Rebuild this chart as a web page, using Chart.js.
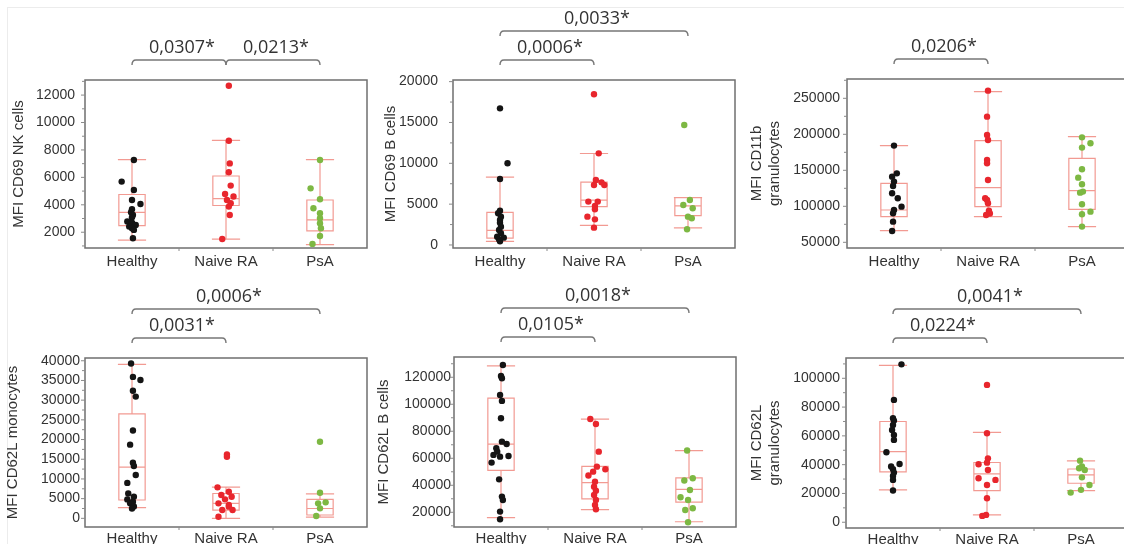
<!DOCTYPE html>
<html>
<head>
<meta charset="utf-8">
<script src="https://cdn.jsdelivr.net/npm/chart.js@4.4.1/dist/chart.umd.min.js"></script>
<style>
html, body { margin: 0; padding: 0; background: #fff; overflow: hidden; }
#wrap { position: relative; width: 1124px; height: 544px; overflow: hidden; }
#edge { position: absolute; left: 7px; top: 7px; width: 1130px; height: 550px; border: 1px solid #ececec; }
canvas { position: absolute; }
</style>
</head>
<body>
<div id="wrap">
  <div id="edge"></div>
  <canvas id="c1"></canvas>
  <canvas id="c2"></canvas>
  <canvas id="c3"></canvas>
  <canvas id="c4"></canvas>
  <canvas id="c5"></canvas>
  <canvas id="c6"></canvas>
</div>
<script>
var groups = ['Healthy', 'Naive RA', 'PsA'];
var groupColors = ['#141414', '#e8262d', '#7db843'];
var boxColor = '#f29a92';

// MFI CD69 NK cells
var nkValues = [
  [7270, 5690, 5080, 4350, 4060, 3680, 3460, 3260, 3090, 2780, 2700, 2530, 2410, 2290, 2170, 1560],
  [12680, 8670, 7020, 6370, 5400, 4790, 4600, 4350, 4110, 3870, 3260, 1510],
  [7270, 5200, 4400, 3750, 3380, 3020, 2660, 2290, 1730, 1150]
];
var nkJitter = [
  [0.02, -0.11, 0.02, 0, 0.09, 0, -0.01, 0.01, 0, -0.05, 0, 0.04, -0.03, 0, 0.02, 0.01],
  [0.03, 0.03, 0.04, 0.03, 0.05, -0.01, 0.08, 0.01, 0.05, 0.03, 0.04, -0.04],
  [0, -0.1, 0, -0.07, 0, 0, 0, 0.01, 0, -0.08]
];
// [low whisker, q1, median, q3, high whisker]
var nkBoxes = [[1430, 2480, 3450, 4750, 7300], [1500, 3950, 4450, 6100, 8700], [1100, 2100, 2900, 4350, 7300]];
var nkTicks = [2000, 4000, 6000, 8000, 10000, 12000];
var nkRange = [850, 13100];
var nkTests = [[0, 1, 0, '0,0307*'], [1, 2, 0, '0,0213*']];

// MFI CD69 B cells
var b69Values = [
  [16730, 10000, 8080, 4200, 3880, 3470, 3060, 2730, 2240, 1840, 1430, 1020, 900, 690, 450],
  [18450, 11220, 7960, 7670, 7350, 7350, 5310, 5310, 4780, 4370, 3470, 3140, 2120],
  [14690, 5510, 4900, 4490, 3470, 3270, 1920]
];
var b69Jitter = [
  [0, 0.08, 0, 0, -0.02, 0.01, 0, 0, 0.01, -0.01, 0.01, -0.03, 0.04, -0.01, 0],
  [0, 0.05, 0.02, 0.08, 0, 0.11, -0.06, 0.04, 0.01, 0.01, -0.07, 0.01, 0],
  [-0.04, 0.02, -0.05, 0.05, 0, 0.04, -0.01]
];
var b69Boxes = [[450, 850, 1800, 4000, 8300], [2400, 4700, 5500, 7700, 11200], [2100, 3600, 4800, 5800, 5800]];
var b69Ticks = [0, 5000, 10000, 15000, 20000];
var b69Range = [-370, 20200];
var b69Tests = [[0, 1, 0, '0,0006*'], [0, 2, 1, '0,0033*']];

// MFI CD11b granulocytes
var cd11bValues = [
  [184300, 145800, 141200, 134300, 128200, 118100, 111100, 99500, 94900, 90300, 78700, 65700],
  [260600, 224500, 199100, 192100, 164400, 159700, 136600, 111100, 108800, 104200, 94000, 90000, 88000],
  [195800, 187500, 181500, 151400, 139800, 130600, 120400, 119000, 102800, 92600, 88900, 71800]
];
var cd11bJitter = [
  [0, 0.03, -0.02, 0, -0.01, -0.02, 0.04, 0.08, 0, -0.01, -0.01, -0.02],
  [0, -0.01, -0.01, 0, -0.01, -0.01, 0, -0.03, -0.01, 0, 0.01, 0.02, -0.02],
  [0, 0.09, 0, 0, -0.04, 0, 0.01, -0.02, 0, 0.09, 0, 0]
];
var cd11bBoxes = [[66200, 85600, 94900, 131900, 184300], [85600, 99500, 125900, 191200, 259300], [71800, 95800, 121800, 166700, 196800]];
var cd11bTicks = [50000, 100000, 150000, 200000, 250000];
var cd11bRange = [42100, 276800];
var cd11bTests = [[0, 1, 0, '0,0206*']];

// MFI CD62L monocytes
var monoValues = [
  [39300, 35900, 35100, 32400, 30900, 22300, 18700, 14100, 13300, 11000, 9000, 6300, 5500, 4800, 4200, 3800, 3000, 2500],
  [16230, 15640, 7860, 6760, 5920, 5490, 4820, 3800, 3380, 2960, 2110, 2110, 420],
  [19440, 6510, 4060, 3800, 2540, 590]
];
var monoJitter = [
  [-0.01, 0.01, 0.09, 0.01, 0.04, 0.01, -0.02, 0.01, 0.02, 0.04, -0.05, -0.04, 0.02, -0.05, 0.01, -0.02, 0.02, 0],
  [0.01, 0.01, -0.09, 0.03, -0.05, 0.06, -0.01, -0.08, 0.03, 0.03, -0.04, 0.07, -0.08],
  [0, 0, 0.06, -0.02, 0, -0.04]
];
var monoBoxes = [[2700, 4650, 13000, 26500, 39100], [0, 2100, 3800, 6300, 7900], [300, 850, 2500, 4800, 6200]];
var monoTicks = [0, 5000, 10000, 15000, 20000, 25000, 30000, 35000, 40000];
var monoRange = [-2200, 40700];
var monoTests = [[0, 1, 0, '0,0031*'], [0, 2, 1, '0,0006*']];

// MFI CD62L B cells
var b62Values = [
  [129100, 121000, 119300, 106900, 102500, 89600, 72300, 70600, 67400, 64900, 62500, 61200, 61700, 56800, 44400, 31600, 29100, 20500, 14800],
  [89100, 85400, 64900, 53800, 51900, 50100, 47200, 42700, 39000, 36000, 32800, 29100, 25400, 22200],
  [65700, 45200, 43500, 36500, 31100, 29100, 23000, 21700, 12600]
];
var b62Jitter = [
  [0.02, 0, 0.01, -0.01, 0.01, 0, 0.01, 0.06, -0.05, -0.04, -0.08, -0.01, 0.08, -0.1, -0.02, 0.01, 0.02, -0.01, -0.01],
  [-0.05, 0.01, 0.04, 0.02, 0.11, -0.02, -0.07, 0, -0.01, 0.01, -0.01, 0.01, 0, 0.01],
  [-0.02, 0.04, -0.05, 0.01, -0.09, -0.01, 0.04, -0.04, -0.01]
];
var b62Boxes = [[16000, 51000, 70500, 104500, 128500], [22000, 30000, 42000, 54000, 89000], [13000, 27500, 37000, 45500, 65700]];
var b62Ticks = [20000, 40000, 60000, 80000, 100000, 120000];
var b62Range = [9100, 135000];
var b62Tests = [[0, 1, 0, '0,0105*'], [0, 2, 1, '0,0018*']];

// MFI CD62L granulocytes
var granValues = [
  [109700, 85000, 72200, 70600, 67600, 64100, 60600, 57200, 48600, 40500, 38700, 36800, 34500, 32200, 29400, 22000],
  [95400, 61800, 44400, 41400, 40300, 36300, 30600, 29400, 25900, 16700, 5100, 4400],
  [42800, 38700, 37500, 36300, 31200, 25900, 22500, 20600]
];
var granJitter = [
  [0.09, 0.01, 0, 0.01, 0, -0.01, 0.01, 0.01, -0.07, 0.07, -0.02, 0, 0.01, 0, 0, 0],
  [0, 0, 0.01, 0, -0.09, 0.01, -0.09, 0.09, 0, 0, -0.01, -0.05],
  [-0.01, 0.01, -0.02, 0.04, 0.01, 0.09, 0, -0.11]
];
var granBoxes = [[22500, 35000, 49000, 70000, 109000], [5100, 22000, 33600, 41500, 62500], [22000, 27100, 32900, 37000, 42600]];
var granTicks = [0, 20000, 40000, 60000, 80000, 100000];
var granRange = [-4000, 114100];
var granTests = [[0, 1, 0, '0,0224*'], [0, 2, 1, '0,0041*']];

// layout of the six panels (canvas position, chart area offsets)
var panels = [
  {id: 'c1', left: 0, top: 0, w: 375, h: 272, padTop: 80, padRight: 8, yW: 85, xH: 24, yPad: 10, titlePad: 10, xPad: 5,
   title: 'MFI CD69 NK cells', values: nkValues, jitter: nkJitter, boxes: nkBoxes, ticks: nkTicks, range: nkRange, tests: nkTests},
  {id: 'c2', left: 375, top: 0, w: 375, h: 272, padTop: 80, padRight: 15, yW: 78, xH: 24, yPad: 15, titlePad: 7, xPad: 5,
   title: 'MFI CD69 B cells', values: b69Values, jitter: b69Jitter, boxes: b69Boxes, ticks: b69Ticks, range: b69Range, tests: b69Tests},
  {id: 'c3', left: 750, top: 0, w: 385, h: 272, padTop: 79, padRight: 6, yW: 97, xH: 24, yPad: 7, titlePad: -2, xPad: 5,
   title: ['MFI CD11b', 'granulocytes'], values: cd11bValues, jitter: cd11bJitter, boxes: cd11bBoxes, ticks: cd11bTicks, range: cd11bRange, tests: cd11bTests},
  {id: 'c4', left: 0, top: 272, w: 375, h: 272, padTop: 86, padRight: 8, yW: 85, xH: 17, yPad: 5, titlePad: 4, xPad: 3,
   title: 'MFI CD62L monocytes', values: monoValues, jitter: monoJitter, boxes: monoBoxes, ticks: monoTicks, range: monoRange, tests: monoTests},
  {id: 'c5', left: 375, top: 272, w: 375, h: 272, padTop: 85, padRight: 14, yW: 79, xH: 17, yPad: 3, titlePad: 0, xPad: 3,
   title: 'MFI CD62L B cells', values: b62Values, jitter: b62Jitter, boxes: b62Boxes, ticks: b62Ticks, range: b62Range, tests: b62Tests},
  {id: 'c6', left: 750, top: 272, w: 385, h: 272, padTop: 86, padRight: 7, yW: 96, xH: 16, yPad: 6, titlePad: -2, xPad: 3,
   title: ['MFI CD62L', 'granulocytes'], values: granValues, jitter: granJitter, boxes: granBoxes, ticks: granTicks, range: granRange, tests: granTests}
];

function boxPlugin(p) {
  return {
    id: 'boxes',
    beforeDatasetsDraw: function(chart) {
      var ctx = chart.ctx, xs = chart.scales.x, ys = chart.scales.y;
      ctx.save();
      ctx.strokeStyle = boxColor;
      ctx.lineWidth = 1.2;
      p.boxes.forEach(function(b, i) {
        var l = xs.getPixelForValue(i - 0.14), r = xs.getPixelForValue(i + 0.14);
        var cl = xs.getPixelForValue(i - 0.15), cr = xs.getPixelForValue(i + 0.15);
        var c = xs.getPixelForValue(i);
        var lo = ys.getPixelForValue(b[0]), q1 = ys.getPixelForValue(b[1]), med = ys.getPixelForValue(b[2]);
        var q3 = ys.getPixelForValue(b[3]), hi = ys.getPixelForValue(b[4]);
        ctx.beginPath();
        ctx.moveTo(c, hi); ctx.lineTo(c, q3);
        ctx.moveTo(c, q1); ctx.lineTo(c, lo);
        ctx.moveTo(cl, hi); ctx.lineTo(cr, hi);
        ctx.moveTo(cl, lo); ctx.lineTo(cr, lo);
        ctx.moveTo(l, med); ctx.lineTo(r, med);
        ctx.rect(l, q3, r - l, q1 - q3);
        ctx.stroke();
      });
      ctx.restore();
    },
    afterDraw: function(chart) {
      var ctx = chart.ctx, a = chart.chartArea, xs = chart.scales.x, ys = chart.scales.y;
      ctx.save();
      // frame
      ctx.strokeStyle = '#6f6f6f';
      ctx.lineWidth = 1.5;
      ctx.strokeRect(a.left, a.top, a.right - a.left, a.bottom - a.top);
      // small tick marks outside the frame
      ctx.strokeStyle = '#8a8a8a';
      ctx.lineWidth = 1;
      ctx.beginPath();
      [0.5, 1.5].forEach(function(v) {
        var x = xs.getPixelForValue(v);
        ctx.moveTo(x, a.bottom); ctx.lineTo(x, a.bottom + 3);
      });
      var step = p.ticks[1] - p.ticks[0];
      for (var k = -1; k < p.ticks.length; k++) {
        var v = p.ticks[0] + step * k;
        if (k >= 0) {
          var ym = ys.getPixelForValue(v);
          ctx.moveTo(a.left - 4, ym); ctx.lineTo(a.left, ym);
        }
        var mid = v + step / 2;
        if (mid > p.range[0] && mid < p.range[1]) {
          var yn = ys.getPixelForValue(mid);
          ctx.moveTo(a.left - 3, yn); ctx.lineTo(a.left, yn);
        }
      }
      ctx.stroke();
      // significance brackets
      ctx.strokeStyle = '#777';
      ctx.lineWidth = 1.4;
      ctx.fillStyle = '#333';
      ctx.font = '18px "Open Sans"';
      ctx.textAlign = 'center';
      ctx.textBaseline = 'middle';
      p.tests.forEach(function(t) {
        var x1 = xs.getPixelForValue(t[0]), x2 = xs.getPixelForValue(t[1]);
        var y = a.top - (t[2] === 0 ? 20 : 49);
        ctx.beginPath();
        ctx.moveTo(x1, y + 5);
        ctx.quadraticCurveTo(x1, y, x1 + 4, y);
        ctx.lineTo(x2 - 4, y);
        ctx.quadraticCurveTo(x2, y, x2, y + 5);
        ctx.stroke();
        ctx.fillText(t[3], (x1 + x2) / 2 + 3, y - 12);
      });
      ctx.restore();
    }
  };
}

panels.forEach(function(p) {
  var canvas = document.getElementById(p.id);
  canvas.width = p.w;
  canvas.height = p.h;
  canvas.style.left = p.left + 'px';
  canvas.style.top = p.top + 'px';

  var datasets = p.values.map(function(vals, g) {
    return {
      data: vals.map(function(v, k) { return {x: g + p.jitter[g][k], y: v}; }),
      pointRadius: 3.2,
      pointHoverRadius: 3.2,
      pointBorderWidth: 0,
      pointBackgroundColor: groupColors[g]
    };
  });

  new Chart(canvas.getContext('2d'), {
    type: 'scatter',
    data: {datasets: datasets},
    options: {
      responsive: false,
      animation: false,
      layout: {padding: {left: 0, top: p.padTop, right: p.padRight, bottom: 0}},
      plugins: {legend: {display: false}, tooltip: {enabled: false}},
      scales: {
        x: {
          type: 'linear', min: -0.5, max: 2.5,
          grid: {display: false, drawTicks: false},
          border: {display: false},
          afterBuildTicks: function(s) { s.ticks = groups.map(function(g, i) { return {value: i}; }); },
          afterFit: function(s) { s.height = p.xH; },
          ticks: {
            autoSkip: false, maxRotation: 0, padding: p.xPad, color: '#333',
            font: {family: '"Liberation Sans", Arial, sans-serif', size: 15},
            callback: function(v) { return groups[v]; }
          }
        },
        y: {
          min: p.range[0], max: p.range[1],
          grid: {display: false, drawTicks: false},
          border: {display: false},
          afterBuildTicks: function(s) { s.ticks = p.ticks.map(function(v) { return {value: v}; }); },
          afterFit: function(s) { s.width = p.yW; },
          ticks: {
            padding: p.yPad, color: '#333',
            font: {family: '"Liberation Sans", Arial, sans-serif', size: 14},
            callback: function(v) { return String(v); }
          },
          title: {
            display: true, text: p.title, color: '#333',
            font: {family: '"Liberation Sans", Arial, sans-serif', size: 15},
            padding: {top: p.titlePad, bottom: 0}
          }
        }
      }
    },
    plugins: [boxPlugin(p)]
  });
});
</script>
</body>
</html>
